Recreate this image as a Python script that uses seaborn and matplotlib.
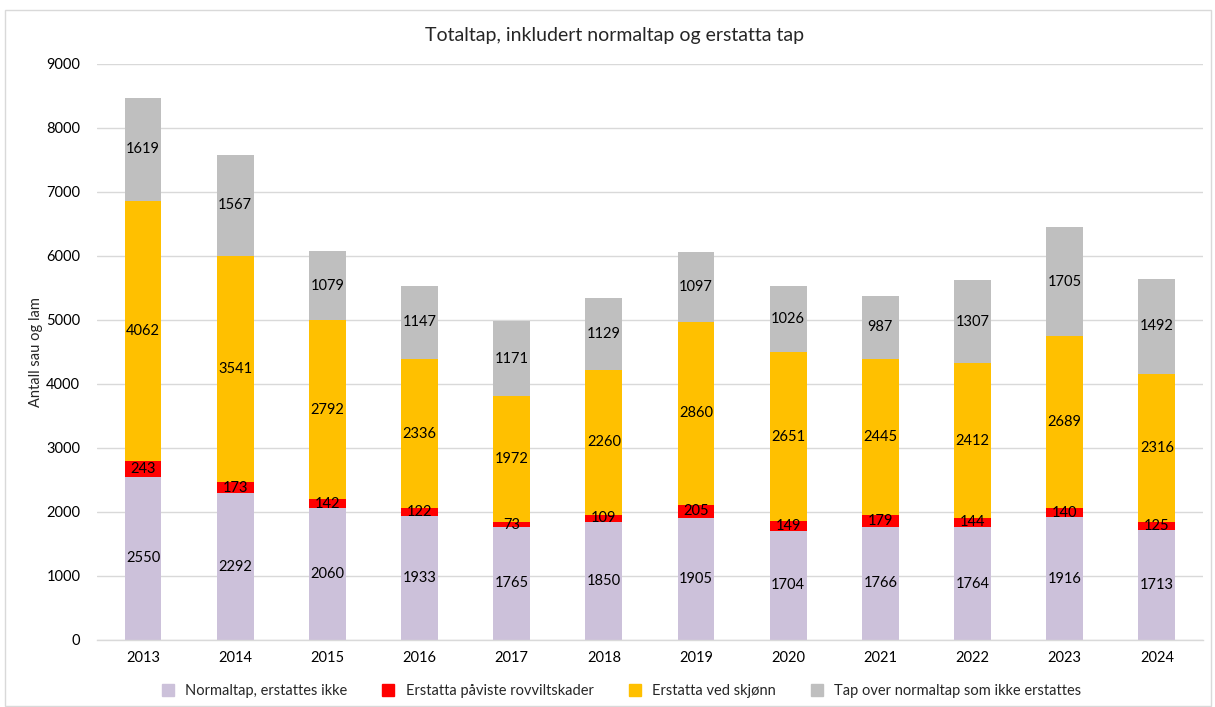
import matplotlib
matplotlib.use("Agg")
import matplotlib.pyplot as plt
import seaborn as sns
import pandas as pd
import numpy as np
from matplotlib.patches import Rectangle
from matplotlib.lines import Line2D

years = ["2013", "2014", "2015", "2016", "2017", "2018", "2019", "2020", "2021", "2022", "2023", "2024"]
normaltap = [2550, 2292, 2060, 1933, 1765, 1850, 1905, 1704, 1766, 1764, 1916, 1713]
rovvilt = [243, 173, 142, 122, 73, 109, 205, 149, 179, 144, 140, 125]
skjonn = [4062, 3541, 2792, 2336, 1972, 2260, 2860, 2651, 2445, 2412, 2689, 2316]
ikke_erstattes = [1619, 1567, 1079, 1147, 1171, 1129, 1097, 1026, 987, 1307, 1705, 1492]

series_names = ["Normaltap, erstattes ikke", "Erstatta påviste rovviltskader",
                "Erstatta ved skjønn", "Tap over normaltap som ikke erstattes"]
series_vals = [normaltap, rovvilt, skjonn, ikke_erstattes]
colors = ["#CCC1DA", "#FF0000", "#FFC000", "#BFBFBF"]

sns.set_theme(style="white")
plt.rcParams["font.family"] = ["Lato", "DejaVu Sans"]

fig = plt.figure(figsize=(12.15, 7.07), dpi=100)
ax = fig.add_axes([0.0798, 0.0948, 0.9103, 0.8147])

df = pd.DataFrame({"year": years})
cum = np.zeros(len(years))
cums = []
for vals in series_vals:
    cum = cum + np.array(vals)
    cums.append(cum.copy())

# draw cumulative totals from top down
for i in range(len(series_vals) - 1, -1, -1):
    df["h"] = cums[i]
    sns.barplot(data=df, x="year", y="h", color=colors[i], width=0.40,
                saturation=1, ax=ax, linewidth=0, errorbar=None)

# labels
for i, vals in enumerate(series_vals):
    bottoms = cums[i] - np.array(vals)
    for j, v in enumerate(vals):
        ax.text(j, bottoms[j] + v / 2, str(v), ha="center", va="center",
                fontsize=10.5, color="black")

ax.set_ylim(0, 9000)
ax.set_xlim(-0.5, len(years) - 0.5)
ax.set_yticks(range(0, 9001, 1000))
ax.yaxis.grid(True, color="#D9D9D9", linewidth=1)
ax.set_axisbelow(True)
for s in ["top", "right", "left"]:
    ax.spines[s].set_visible(False)
ax.spines["bottom"].set_color("#D9D9D9")
ax.spines["bottom"].set_linewidth(1)
ax.tick_params(axis="y", length=0, labelsize=10.5, colors="black", pad=12)
ax.tick_params(axis="x", length=0, labelsize=10.5, colors="black", pad=8)
ax.set_xlabel("")
ax.set_ylabel("Antall sau og lam", fontsize=10.5, labelpad=2)

fig.suptitle("Totaltap, inkludert normaltap og erstatta tap", fontsize=14, y=0.962, x=0.506)

handles = [Line2D([0], [0], marker="s", linestyle="none", markersize=8,
                  markerfacecolor=c, markeredgecolor=c) for c in colors]
fig.legend(handles, series_names, loc="center", bbox_to_anchor=(0.508, 0.022),
           ncol=4, frameon=False, fontsize=10.5, handletextpad=0.2, columnspacing=1.8)

fig.add_artist(Rectangle((0.004, 0.002), 0.993, 0.984, transform=fig.transFigure,
                         fill=False, edgecolor="#D9D9D9", linewidth=1))

fig.savefig("out.png", dpi=100)
